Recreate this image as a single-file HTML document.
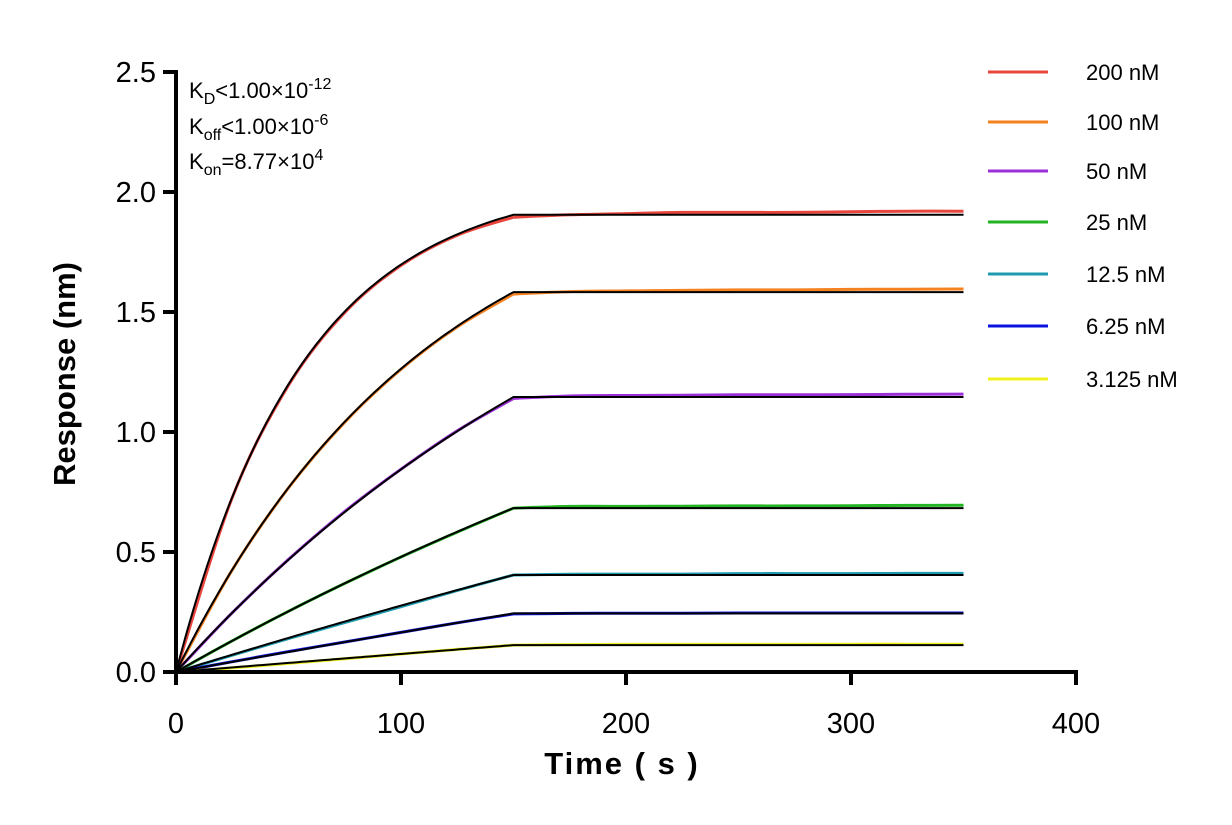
<!DOCTYPE html>
<html><head><meta charset="utf-8"><style>
body{margin:0;background:#fff;}
svg{display:block;font-family:"Liberation Sans",Arial,sans-serif;}
</style></head><body>
<svg id="chart" width="1232" height="825" viewBox="0 0 1232 825">
<g id="series"></g>
<g id="fits"></g>
<g id="axes"></g>
<g id="legend"></g>
<text x="189" y="98" font-size="22px">K<tspan font-size="16px" dy="6">D</tspan><tspan dy="-6">&lt;1.00×10</tspan><tspan font-size="16px" dy="-9">-12</tspan></text>
<text x="189" y="134" font-size="22px">K<tspan font-size="16px" dy="6">off</tspan><tspan dy="-6">&lt;1.00×10</tspan><tspan font-size="16px" dy="-9">-6</tspan></text>
<text x="189" y="169" font-size="22px">K<tspan font-size="16px" dy="6">on</tspan><tspan dy="-6">=8.77×10</tspan><tspan font-size="16px" dy="-9">4</tspan></text>
<text x="0" y="0" transform="translate(75,374) rotate(-90)" font-size="31px" font-weight="bold" text-anchor="middle">Response (nm)</text>
<text x="622" y="774" font-size="31px" font-weight="bold" text-anchor="middle" letter-spacing="2">Time ( s )</text>
</svg>
<script>
const labels=["200 nM","100 nM","50 nM","25 nM","12.5 nM","6.25 nM","3.125 nM"];
const colors=["#e8453c","#f58220","#9b30d9","#22b422","#1f9bb0","#0a14e0","#f0f01e"];
const concNM=[200,100,50,25,12.5,6.25,3.125];
const fitRmax=[2.05,2.16,2.38,2.43,2.60,2.65,2.42];
const fitPlateau=[1.905,1.583,1.146,0.683,0.404,0.244,0.112];
const kon=8.77e4;
const sampleTimes=[0,25,50,75,100,125,150,175,200,225,250,275,300,325,350];
const s200=[0,0.727,1.195,1.498,1.694,1.820,1.895,1.905,1.910,1.915,1.915,1.915,1.918,1.920,1.920];
const s100=[0,0.426,0.767,1.041,1.261,1.438,1.575,1.585,1.588,1.590,1.592,1.592,1.594,1.595,1.596];
const s50=[0,0.247,0.469,0.669,0.845,1.005,1.140,1.150,1.152,1.153,1.155,1.155,1.156,1.157,1.158];
const s25=[0,0.130,0.253,0.369,0.479,0.583,0.683,0.690,0.690,0.691,0.692,0.692,0.693,0.694,0.695];
const s12=[0,0.070,0.139,0.206,0.272,0.340,0.404,0.407,0.408,0.408,0.410,0.410,0.410,0.411,0.411];
const s6=[0,0.043,0.085,0.125,0.165,0.205,0.242,0.244,0.245,0.245,0.246,0.246,0.246,0.246,0.246];
const s3=[0,0.017,0.036,0.055,0.075,0.094,0.112,0.114,0.115,0.115,0.115,0.115,0.116,0.116,0.116];
const seriesVals=[s200,s100,s50,s25,s12,s6,s3];
const xTicks=[0,100,200,300,400];
const yTicks=[0,0.5,1.0,1.5,2.0,2.5];
const yTickLabels=["0.0","0.5","1.0","1.5","2.0","2.5"];
const NS="http://www.w3.org/2000/svg";
const X=t=>176+t*900/400;
const Y=v=>672-v*600/2.5;
function mk(tag,attrs,parent){const e=document.createElementNS(NS,tag);for(const k in attrs)e.setAttribute(k,attrs[k]);parent.appendChild(e);return e;}
function smooth(pts){let d="M"+pts[0][0]+","+pts[0][1];for(let i=0;i<pts.length-1;i++){const p0=pts[Math.max(0,i-1)],p1=pts[i],p2=pts[i+1],p3=pts[Math.min(pts.length-1,i+2)];const c1=[p1[0]+(p2[0]-p0[0])/6,p1[1]+(p2[1]-p0[1])/6],c2=[p2[0]-(p3[0]-p1[0])/6,p2[1]-(p3[1]-p1[1])/6];d+=" C"+c1[0].toFixed(1)+","+c1[1].toFixed(1)+" "+c2[0].toFixed(1)+","+c2[1].toFixed(1)+" "+p2[0].toFixed(1)+","+p2[1].toFixed(1);}return d;}
const gs=document.getElementById('series'),gf=document.getElementById('fits'),ga=document.getElementById('axes'),gl=document.getElementById('legend');
seriesVals.forEach((vals,i)=>{
  const pa=sampleTimes.slice(0,7).map((t,j)=>[X(t),Y(vals[j])]);
  const pb=sampleTimes.slice(6).map((t,j)=>[X(t),Y(vals[j+6])]);
  const p=mk('path',{d:smooth(pa)+" "+smooth(pb),fill:"none",stroke:colors[i],"stroke-width":3},gs);
  
  
});
fitRmax.forEach((rm,i)=>{
  const k=kon*concNM[i]*1e-9;let d="";
  for(let t=0;t<=150;t+=2){const v=rm*(1-Math.exp(-k*t))*fitPlateau[i]/(rm*(1-Math.exp(-k*150)));d+=(t?"L":"M")+X(t).toFixed(1)+","+Y(v).toFixed(1);}
  d+="L"+X(350)+","+Y(fitPlateau[i]).toFixed(1);
  const p=mk('path',{d:d,fill:"none",stroke:"#000","stroke-width":2},gf);
  
  
});
mk('line',{x1:176,y1:70,x2:176,y2:674,stroke:"#000","stroke-width":4},ga);
mk('line',{x1:174,y1:672,x2:1078,y2:672,stroke:"#000","stroke-width":4},ga);
xTicks.forEach(t=>{mk('line',{x1:X(t),y1:672,x2:X(t),y2:685,stroke:"#000","stroke-width":4},ga);
  const e=mk('text',{x:X(t),y:733,"font-size":"29px","text-anchor":"middle"},ga);e.textContent=t;
  
  });
yTicks.forEach((v,i)=>{mk('line',{x1:163,y1:Y(v),x2:176,y2:Y(v),stroke:"#000","stroke-width":4},ga);
  const e=mk('text',{x:156,y:Y(v)+10,"font-size":"29px","text-anchor":"end"},ga);e.textContent=yTickLabels[i];
  
  });
const legY=[72,122,171,222,274,326,379];
labels.forEach((l,i)=>{
  const g=mk('g',{},gl);
  
  
  mk('line',{x1:988,y1:legY[i],x2:1048,y2:legY[i],stroke:colors[i],"stroke-width":3},g);
  const e=mk('text',{x:1086,y:legY[i]+8,"font-size":"22px"},g);e.textContent=l;
});
</script>
</body></html>
